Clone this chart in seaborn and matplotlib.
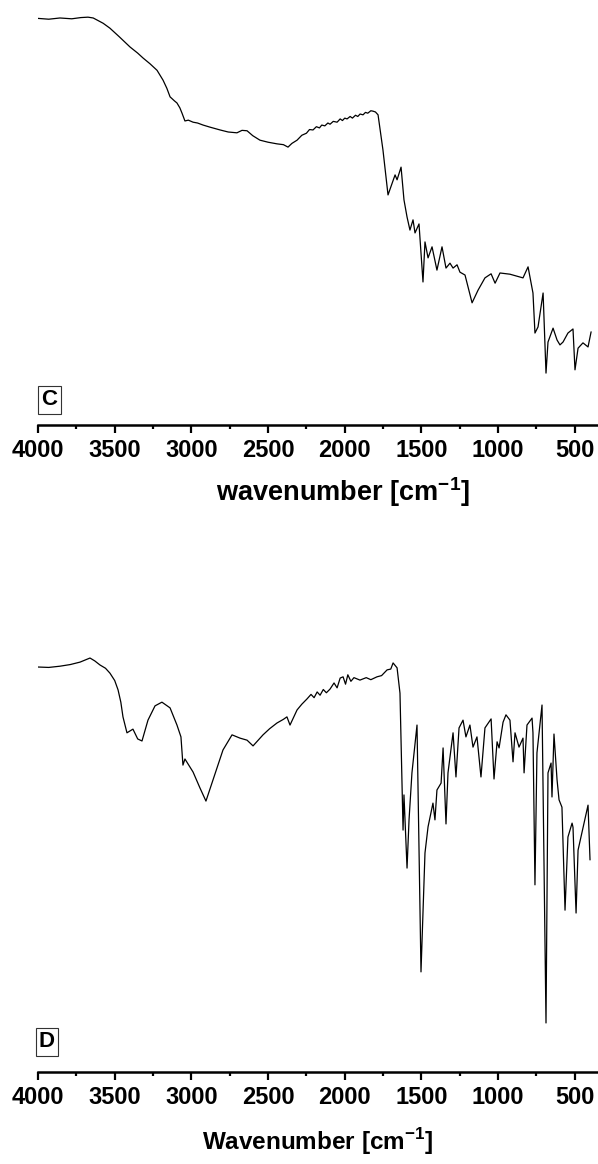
import numpy as np
import matplotlib
matplotlib.use("Agg")
import matplotlib.pyplot as plt
import seaborn as sns

sns.set_style("white")
plt.rcParams["font.family"] = ["Liberation Sans", "DejaVu Sans"]
plt.rcParams["font.weight"] = "bold"
plt.rcParams["text.color"] = "black"
plt.rcParams["axes.labelcolor"] = "black"
plt.rcParams["xtick.color"] = "black"
plt.rcParams["mathtext.fontset"] = "custom"
plt.rcParams["mathtext.bf"] = "Liberation Sans:bold"
plt.rcParams["mathtext.rm"] = "Liberation Sans:bold"

# ---------------------------------------------------------------------
# Spectrum C (transmittance, arbitrary units)
# ---------------------------------------------------------------------
wn_c = [4000, 3930, 3857, 3780, 3720, 3674, 3640, 3615, 3575, 3531, 3470, 3400,
        3350, 3315, 3270, 3224, 3185, 3160, 3139, 3110, 3094, 3075, 3061, 3042,
        3020, 2989, 2960, 2924, 2880, 2813, 2760, 2703, 2670, 2637, 2600, 2553,
        2500, 2442, 2400, 2370, 2345, 2311, 2280, 2250, 2230, 2207, 2185, 2165,
        2150, 2130, 2110, 2096, 2075, 2050, 2030, 2015, 2000, 1985, 1965, 1950,
        1930, 1915, 1900, 1881, 1865, 1850, 1830, 1816, 1800, 1783, 1751, 1718,
        1672, 1659, 1633, 1614, 1594, 1575, 1555, 1542, 1516, 1490, 1477, 1457,
        1431, 1399, 1366, 1340, 1314, 1294, 1268, 1249, 1216, 1170, 1131, 1086,
        1046, 1020, 988, 923, 857, 838, 805, 773, 760, 740, 707, 688, 675, 642,
        616, 597, 577, 545, 512, 499, 479, 447, 414, 394]
t_c = [99.5, 99.3, 99.6, 99.4, 99.7, 99.8, 99.6, 99.1, 98.3, 97.1, 95.0, 92.5,
       91.0, 89.8, 88.4, 86.8, 84.4, 82.4, 80.3, 79.3, 78.8, 77.6, 76.3, 74.4,
       74.6, 74.1, 73.9, 73.4, 72.9, 72.2, 71.7, 71.5, 72.1, 72.0, 70.8, 69.7,
       69.2, 68.8, 68.6, 68.0, 68.9, 69.7, 70.9, 71.4, 72.3, 72.2, 73.0, 72.7,
       73.4, 73.2, 73.9, 73.6, 74.3, 74.1, 74.9, 74.5, 75.1, 74.9, 75.5, 75.1,
       75.8, 75.5, 76.1, 75.9, 76.5, 76.3, 76.9, 76.8, 76.6, 75.9, 67.3, 56.3,
       61.2, 60.0, 63.1, 55.1, 50.9, 47.7, 50.2, 47.0, 49.2, 35.0, 44.8, 40.9,
       43.6, 37.9, 43.6, 38.4, 39.6, 38.4, 39.2, 37.4, 36.7, 29.9, 33.0, 36.0,
       37.0, 34.7, 37.2, 36.9, 36.2, 36.0, 38.7, 32.3, 22.5, 24.0, 32.3, 12.7,
       20.3, 23.7, 20.8, 19.6, 20.3, 22.5, 23.5, 13.5, 18.8, 20.1, 19.1, 22.8]

# ---------------------------------------------------------------------
# Spectrum D (transmittance, arbitrary units)
# ---------------------------------------------------------------------
wn_d = [4000, 3930, 3857, 3790, 3726, 3661, 3630, 3596, 3560, 3531, 3500, 3478,
        3460, 3446, 3420, 3381, 3350, 3322, 3283, 3237, 3192, 3139, 3094, 3068,
        3055, 3042, 2989, 2944, 2905, 2859, 2794, 2735, 2683, 2637, 2598, 2533,
        2490, 2442, 2400, 2377, 2357, 2311, 2280, 2246, 2220, 2200, 2180, 2161,
        2140, 2120, 2096, 2070, 2050, 2030, 2011, 1995, 1980, 1960, 1940, 1901,
        1860, 1830, 1790, 1760, 1724, 1700, 1685, 1659, 1640, 1620, 1614, 1594,
        1581, 1562, 1529, 1503, 1477, 1457, 1425, 1412, 1399, 1372, 1359, 1340,
        1327, 1294, 1275, 1255, 1229, 1210, 1184, 1164, 1138, 1112, 1086, 1046,
        1027, 1007, 994, 968, 949, 923, 903, 890, 864, 838, 831, 812, 779, 773,
        760, 747, 714, 688, 675, 655, 649, 636, 616, 603, 584, 564, 545, 518,
        512, 492, 479, 447, 414, 401]
t_d = [99.1, 99.0, 99.3, 99.7, 100.3, 101.3, 100.6, 99.6, 98.8, 97.6, 95.8, 93.5,
       90.5, 86.9, 83.0, 83.9, 81.5, 81.0, 86.1, 89.6, 90.5, 89.1, 84.9, 82.0,
       75.1, 76.6, 73.4, 69.5, 66.3, 71.5, 78.8, 82.5, 81.7, 81.2, 79.8, 82.5,
       84.0, 85.4, 86.3, 86.9, 84.9, 88.6, 90.0, 91.3, 92.4, 91.6, 93.0, 92.2,
       93.6, 92.8, 93.7, 95.2, 94.0, 96.4, 96.7, 94.9, 97.2, 95.6, 96.5, 95.9,
       96.5, 96.0, 96.7, 97.0, 98.4, 98.6, 100.1, 98.9, 92.7, 59.2, 67.8, 49.9,
       61.7, 73.2, 84.9, 24.5, 53.6, 60.0, 65.8, 61.7, 69.0, 70.7, 79.3, 60.7,
       73.2, 83.0, 72.2, 84.2, 86.1, 82.0, 84.9, 79.5, 82.0, 72.2, 84.2, 86.4,
       71.7, 80.8, 79.3, 85.6, 87.4, 86.1, 75.9, 83.0, 79.5, 81.7, 73.2, 84.9,
       86.6, 83.0, 45.8, 78.1, 89.8, 12.0, 73.2, 75.6, 67.3, 82.7, 71.5, 66.6,
       64.8, 39.6, 57.5, 60.9, 59.9, 38.9, 54.3, 59.7, 65.3, 51.9]

panels = [
    ("C", wn_c, t_c, "wavenumber [cm$^{\\mathbf{-1}}$]"),
    ("D", wn_d, t_d, "Wavenumber [cm$^{\\mathbf{-1}}$]"),
]

W, H = 598, 1164
fig = plt.figure(figsize=(W / 100, H / 100), dpi=100)

# axes rectangles in pixels: (axis line y, height)
boxes = [(425, 425), (1072, 472)]
ymax = [104.0, 115.5]
label_pos = [(0.545, -0.118), (0.5, -0.114)]
label_size = [19.5, 17.5]
tag_pos = [(0.0205, 0.059), (0.016, 0.064)]

for i, (tag, wn, t, xlabel) in enumerate(panels):
    base, h = boxes[i]
    ax = fig.add_axes([38 / W, 1 - base / H, 1 - 38 / W, h / H])
    sns.lineplot(x=wn, y=t, ax=ax, color="black", linewidth=0.9,
                 estimator=None, sort=False)
    ax.set_xlim(4000, 349)
    ax.set_ylim(0, ymax[i])
    ax.set_xticks(np.arange(4000, 400, -500))
    ax.set_xticks(np.arange(3750, 300, -500), minor=True)
    ax.set_yticks([])
    for s in ["left", "right", "top"]:
        ax.spines[s].set_visible(False)
    ax.spines["bottom"].set_linewidth(1.8)
    ax.spines["bottom"].set_color("black")
    ax.tick_params(axis="x", which="major", direction="out", length=6, width=1.6,
                   labelsize=17, pad=4, bottom=True, colors="black")
    ax.tick_params(axis="x", which="minor", direction="out", length=3, width=1.6,
                   bottom=True, colors="black")
    for lab in ax.get_xticklabels():
        lab.set_fontweight("bold")
    ax.set_xlabel(xlabel, fontsize=label_size[i], fontweight="bold", color="black")
    ax.xaxis.set_label_coords(*label_pos[i])
    ax.set_ylabel("")
    ax.text(tag_pos[i][0], tag_pos[i][1], tag, transform=ax.transAxes,
            ha="center", va="center", fontsize=16, fontweight="bold",
            bbox=dict(boxstyle="square,pad=0.15", facecolor="white",
                      edgecolor="#333333", linewidth=0.8))
    ax.patch.set_alpha(0)

fig.savefig("out.png", dpi=100)
